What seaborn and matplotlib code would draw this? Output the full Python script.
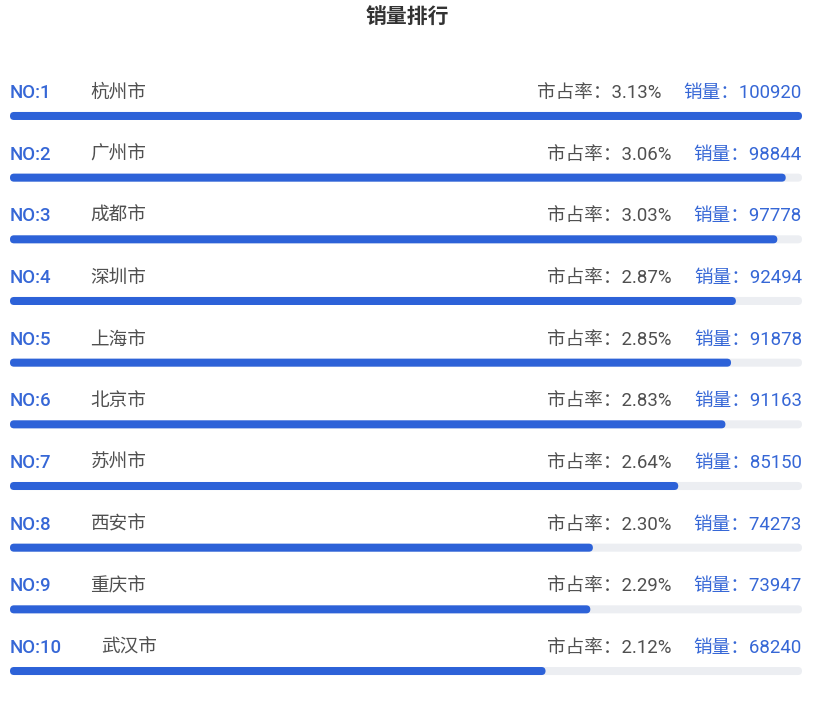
import matplotlib
matplotlib.use("Agg")
import matplotlib.pyplot as plt
import seaborn as sns
import pandas as pd
from matplotlib.patches import FancyBboxPatch
from matplotlib.transforms import IdentityTransform

# data
cities = ["杭州市", "广州市", "成都市", "深圳市", "上海市", "北京市", "苏州市", "西安市", "重庆市", "武汉市"]
sales = [100920, 98844, 97778, 92494, 91878, 91163, 85150, 74273, 73947, 68240]
shares = ["3.13%", "3.06%", "3.03%", "2.87%", "2.85%", "2.83%", "2.64%", "2.30%", "2.29%", "2.12%"]
ranks = [f"NO:{i}" for i in range(1, len(cities) + 1)]

BLUE = "#2d62d8"
BLUE_TXT = "#3667d6"
TRACK = "#eceef2"
GREY_TXT = "#505050"

sns.set_theme(style="white")
plt.rcParams["font.family"] = ["Roboto", "Noto Sans CJK SC", "DejaVu Sans"]

df = pd.DataFrame({"city": cities, "sales": sales})
df["track"] = max(sales)

W, H = 827, 702
fig = plt.figure(figsize=(W / 100, H / 100), dpi=100)
fig.patch.set_facecolor("white")
ax = fig.add_axes([10 / W, 2 / H, 792 / W, 660 / H])

sns.barplot(data=df, x="track", y="city", color=TRACK, width=0.13, saturation=1, ax=ax)
sns.barplot(data=df, x="sales", y="city", color=BLUE, width=0.13, saturation=1, ax=ax)

ax.set_xlim(0, max(sales))
ax.set_ylim(9.47, -1.232)
ax.axis("off")

# turn the flat bars into rounded pills
for p in list(ax.patches):
    bb = p.get_window_extent()
    r = bb.height / 2
    pill = FancyBboxPatch((bb.x0, bb.y0), bb.width, bb.height,
                          boxstyle=f"round,pad=0,rounding_size={r}",
                          facecolor=p.get_facecolor(), edgecolor="none",
                          transform=IdentityTransform(), zorder=p.get_zorder())
    p.set_visible(False)
    fig.add_artist(pill)

fs = 13.4
for i, (rk, city, sh, s) in enumerate(zip(ranks, cities, shares, sales)):
    y = i - 0.375
    no_txt = ax.text(0, y, rk, ha="left", va="center", fontsize=fs,
                     color=BLUE_TXT, fontweight="medium")
    ax.annotate(city, xy=(1, 0.5), xycoords=no_txt, xytext=(28, 0),
                textcoords="offset points", ha="left", va="center",
                fontsize=fs, color=GREY_TXT)
    s_txt = ax.text(max(sales), y, f"销量：{s}", ha="right", va="center",
                    fontsize=fs, color=BLUE_TXT)
    ax.annotate(f"市占率：{sh}", xy=(0, 0.5), xycoords=s_txt, xytext=(-16, 0),
                textcoords="offset points", ha="right", va="center",
                fontsize=fs, color=GREY_TXT)

fig.text(407 / W, 1 - 18 / H, "销量排行", ha="center", va="center",
         fontsize=15, fontweight="bold", color="#333333")

fig.savefig("out.png", dpi=100)
